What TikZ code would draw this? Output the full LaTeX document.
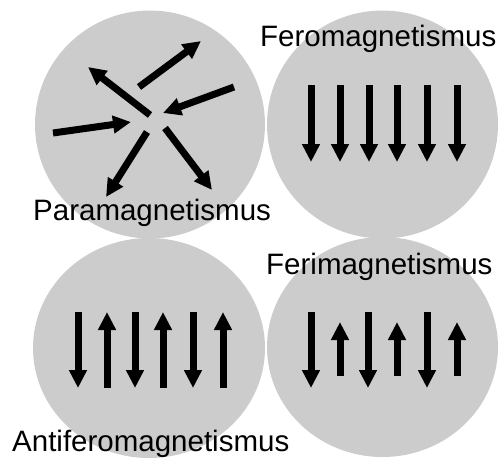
\documentclass[tikz,border=0pt]{standalone}
\usepackage{fontspec}
\setmainfont{Liberation Sans}
\usetikzlibrary{arrows.meta}
\definecolor{discgray}{RGB}{204,204,204}
\begin{document}
\begin{tikzpicture}[x=1pt,y=-1pt,
  disc/.style={fill=discgray, draw=none},
  spin/.style={line width=7pt, -{Triangle[width=17pt,length=18pt]}},
  lbl/.style={anchor=base west, inner sep=0pt, font=\fontsize{29.5}{30}\selectfont}]
\useasboundingbox (0,0) rectangle (500,459);
\begin{scope}
\clip (0,0) rectangle (500,459);
% discs
\fill[disc] (150,124.5) ellipse [x radius=115pt, y radius=114pt];
\fill[disc] (382.5,124.5) ellipse [x radius=115.5pt, y radius=114pt];
\fill[disc] (149,348) ellipse [x radius=116pt, y radius=110pt];
\fill[disc] (382.5,347) ellipse [x radius=115.5pt, y radius=110pt];
\end{scope}
% paramagnetism
\draw[spin] (139,87) -- (201,41);
\draw[spin] (150,115) -- (88,67);
\draw[spin] (234,87) -- (163,113);
\draw[spin] (53,133) -- (131,122);
\draw[spin] (147,132) -- (106,197);
\draw[spin] (165,128) -- (212,190);
% ferromagnetism
\foreach \x in {311,340,369,397,427,457} \draw[spin] (\x,85) -- (\x,162);
% antiferromagnetism
\foreach \x in {78,135,193} \draw[spin] (\x,312) -- (\x,388);
\foreach \x in {107,163,223} \draw[spin] (\x,388) -- (\x,312);
% ferrimagnetism
\foreach \x in {311,368,427} \draw[spin] (\x,312) -- (\x,388);
\foreach \x in {340,397,457} \draw[spin] (\x,376) -- (\x,322);
% labels
\node[lbl] (ferro) at (260,46) {Feromagnetismus};
\node[lbl] (para) at (33,220) {Paramagnetismus};
\node[lbl] (ferri) at (266,274) {Ferimagnetismus};
\node[lbl] (anti) at (12,451) {Antiferomagnetismus};
\end{tikzpicture}
\end{document}
